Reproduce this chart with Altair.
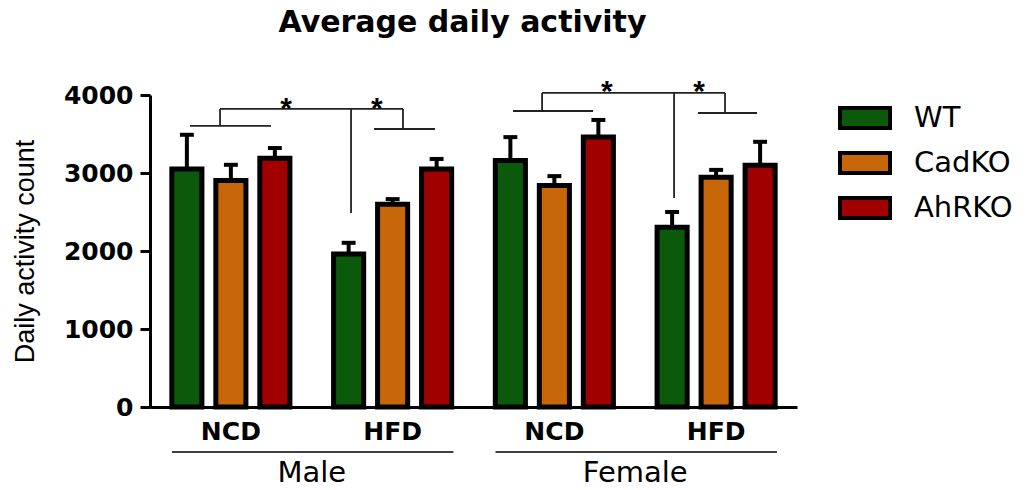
import altair as alt
import pandas as pd

# ---------------- data ----------------
group_sex = ["Male", "Male", "Female", "Female"]
group_diet = ["NCD", "HFD", "NCD", "HFD"]
genotypes = ["WT", "CadKO", "AhRKO"]
colors = ["#0b5a0b", "#c8660a", "#a00000"]

wt_mean = [3050, 1960, 3160, 2305]
cadko_mean = [2905, 2600, 2840, 2945]
ahrko_mean = [3190, 3050, 3460, 3100]

wt_sem = [440, 145, 300, 195]
cadko_sem = [200, 65, 120, 95]
ahrko_sem = [130, 130, 220, 300]

sex_labels = ["Male", "Female"]

# significance brackets (x in group units, y in activity counts)
br_x1 = [0.247, 0.433, 0.433, 1.243, 1.564, 1.385, 2.244, 2.424, 2.424, 3.240, 3.555, 3.388]
br_x2 = [0.748, 0.433, 1.564, 1.243, 1.564, 1.762, 2.739, 2.424, 3.555, 3.240, 3.555, 3.753]
br_y1 = [3603, 3603, 3821, 3821, 3821, 3564, 3795, 3795, 4026, 4026, 4026, 3769]
br_y2 = [3603, 3821, 3821, 2487, 3564, 3564, 3795, 4026, 4026, 2679, 3769, 3769]
star_x = [0.841, 1.403, 2.825, 3.394]
star_y = [3897, 3897, 4115, 4115]

# ---------------- layout constants ----------------
PITCH = 0.272
HALF = 0.093
CAP = 0.043
DIET_Y = -320
LINE_Y = -577
SEX_Y = -840

means = {"WT": wt_mean, "CadKO": cadko_mean, "AhRKO": ahrko_mean}
sems = {"WT": wt_sem, "CadKO": cadko_sem, "AhRKO": ahrko_sem}

rows = []
for g in range(4):
    for j, gt in enumerate(genotypes):
        rows.append(dict(group=g, order=j, genotype=gt, mean=means[gt][g], sem=sems[gt][g]))
df = pd.DataFrame(rows)

diet_df = pd.DataFrame({"g": list(range(4)), "label": group_diet})
sex_df = pd.DataFrame({"s": [0, 1], "label": sex_labels})
br_df = pd.DataFrame({"x1": br_x1, "x2": br_x2, "y1": br_y1, "y2": br_y2})
star_df = pd.DataFrame({"x": star_x, "y": star_y, "t": ["*"] * 4})

xs = alt.Scale(domain=[0, 4], nice=False, zero=False)
ys = alt.Scale(domain=[0, 4000], nice=False)

base = alt.Chart(df).transform_calculate(
    pos=f"datum.group + 0.5 + (datum.order - 1) * {PITCH}",
).transform_calculate(
    x0=f"datum.pos - {HALF}", x1=f"datum.pos + {HALF}",
    c0=f"datum.pos - {CAP}", c1=f"datum.pos + {CAP}",
    top="datum.mean + datum.sem",
)

bars = base.mark_bar(stroke="black", strokeWidth=5, opacity=1).encode(
    x=alt.X("x0:Q", scale=xs,
            axis=alt.Axis(labels=False, ticks=False, title=None, grid=False,
                          domainColor="black", domainWidth=3)),
    x2="x1:Q",
    y=alt.Y("mean:Q", scale=ys,
            axis=alt.Axis(values=[0, 1000, 2000, 3000, 4000], format="d",
                          title="Daily activity count", titleFont="Liberation Sans",
                          titleFontSize=27, titleFontWeight="normal", titleColor="black",
                          titleAngle=270, titleX=-125, titleY=156, titleAlign="center",
                          titleBaseline="middle",
                          labelFont="DejaVu Sans", labelFontWeight="bold", labelFontSize=25,
                          labelColor="black", labelPadding=7, tickSize=10, tickWidth=3,
                          tickColor="black", domainColor="black", domainWidth=3, grid=False)),
    y2=alt.datum(0),
    color=alt.Color("genotype:N", scale=alt.Scale(domain=genotypes, range=colors),
                    legend=alt.Legend(title=None, orient="none", legendX=688, legendY=-4,
                                      symbolType="M-1,-0.4L1,-0.4L1,0.4L-1,0.4Z",
                                      symbolSize=2500, symbolStrokeColor="black",
                                      symbolStrokeWidth=4, symbolOpacity=1,
                                      labelFont="DejaVu Sans", labelFontSize=29,
                                      labelColor="black", labelOffset=22, rowPadding=-9.5,
                                      padding=0)),
)

err = base.mark_rule(color="black", strokeWidth=4).encode(
    x=alt.X("pos:Q", scale=xs), y=alt.Y("mean:Q", scale=ys), y2="top:Q")
caps = base.mark_rule(color="black", strokeWidth=4).encode(
    x=alt.X("c0:Q", scale=xs), x2="c1:Q", y=alt.Y("top:Q", scale=ys))

brackets = alt.Chart(br_df).mark_rule(color="#222222", strokeWidth=1.8).encode(
    x=alt.X("x1:Q", scale=xs), x2="x2:Q", y=alt.Y("y1:Q", scale=ys), y2="y2:Q")

stars = alt.Chart(star_df).mark_text(font="Liberation Sans", fontWeight="bold", fontSize=30,
                                     color="black", baseline="middle", dy=6).encode(
    x=alt.X("x:Q", scale=xs), y=alt.Y("y:Q", scale=ys), text="t:N")

diet_text = alt.Chart(diet_df).transform_calculate(
    xc="datum.g + 0.5", yc=str(DIET_Y)
).mark_text(font="DejaVu Sans", fontWeight="bold", fontSize=25, color="black",
            baseline="middle").encode(
    x=alt.X("xc:Q", scale=xs), y=alt.Y("yc:Q", scale=ys), text="label:N")

sex_lines = alt.Chart(sex_df).transform_calculate(
    xa="datum.s * 2 + 0.136", xb="datum.s * 2 + 1.876", yc=str(LINE_Y)
).mark_rule(color="black", strokeWidth=1.5).encode(
    x=alt.X("xa:Q", scale=xs), x2="xb:Q", y=alt.Y("yc:Q", scale=ys))

sex_text = alt.Chart(sex_df).transform_calculate(
    xc="datum.s * 2 + 1", yc=str(SEX_Y)
).mark_text(font="DejaVu Sans", fontSize=29, color="black", baseline="middle").encode(
    x=alt.X("xc:Q", scale=xs), y=alt.Y("yc:Q", scale=ys), text="label:N")

chart = alt.layer(bars, err, caps, brackets, stars, diet_text, sex_lines, sex_text).properties(
    width=647, height=312,
    autosize=alt.AutoSizeParams(type="none"),
    padding={"left": 142, "top": 87, "right": 226, "bottom": 83},
    background="white",
    title=alt.TitleParams("Average daily activity", font="DejaVu Sans", fontSize=30,
                          fontWeight="bold", color="black", anchor="middle", frame="group",
                          baseline="alphabetic", offset=44, dx=-11, dy=29),
).configure_view(stroke=None)

chart.save("out.html", embed_options={"renderer": "svg", "actions": False})
